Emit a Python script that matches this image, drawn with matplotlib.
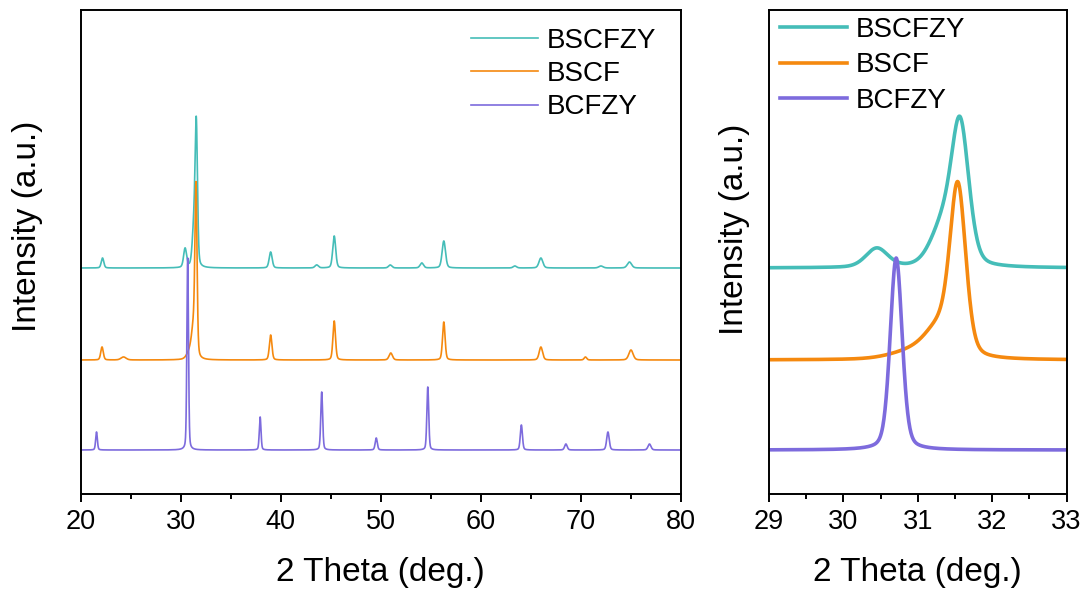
import numpy as np
import matplotlib
matplotlib.use("Agg")
import matplotlib.pyplot as plt
from matplotlib.ticker import MultipleLocator

plt.rcParams["font.family"] = ["Liberation Sans", "DejaVu Sans"]

# Sample names (legend order)
samples = ["BSCFZY", "BSCF", "BCFZY"]

# Reflections per sample: 2-theta position (deg), intensity (a.u.), FWHM (deg)
bscfzy_pos = [22.2, 30.45, 31.33, 31.57, 39.0, 43.6, 45.35, 50.95, 54.1, 56.3, 63.4, 66.0, 72.0, 74.85]
bscfzy_int = [10, 19, 38, 138, 16, 3, 32, 3, 5, 27, 2, 10, 2, 6]
bscfzy_fwhm = [0.3, 0.35, 0.38, 0.28, 0.35, 0.4, 0.35, 0.4, 0.4, 0.4, 0.4, 0.45, 0.5, 0.5]

bscf_pos = [22.15, 24.3, 30.95, 31.3, 31.54, 39.0, 45.35, 51.0, 56.3, 66.0, 70.45, 75.0]
bscf_int = [13, 3, 8, 28, 164, 25, 39, 7, 38, 13, 3, 10]
bscf_fwhm = [0.3, 0.6, 0.7, 0.45, 0.25, 0.3, 0.3, 0.4, 0.3, 0.4, 0.3, 0.5]

bcfzy_pos = [21.6, 30.71, 37.95, 44.1, 49.55, 54.7, 64.05, 68.5, 72.7, 76.85]
bcfzy_int = [18, 192, 33, 58, 12, 63, 25, 6, 18, 6]
bcfzy_fwhm = [0.2, 0.19, 0.2, 0.22, 0.25, 0.22, 0.25, 0.3, 0.3, 0.35]

# Vertical stacking offsets of the patterns
offsets = {"BSCFZY": 226, "BSCF": 134, "BCFZY": 44}
colors = {"BSCFZY": "#45BDB8", "BSCF": "#F5890F", "BCFZY": "#7D6BDD"}

ETA = 0.3  # Lorentzian fraction of the pseudo-Voigt profile


def pattern(x, pos, inten, fwhm):
    y = np.zeros_like(x)
    for p, a, f in zip(pos, inten, fwhm):
        d = (x - p) / f
        g = np.exp(-4 * np.log(2) * d ** 2)
        lor = 1.0 / (1.0 + 4 * d ** 2)
        y += a * ((1 - ETA) * g + ETA * lor)
    return y


two_theta = np.arange(20.0, 80.0001, 0.005)
curves = {
    "BSCFZY": pattern(two_theta, bscfzy_pos, bscfzy_int, bscfzy_fwhm),
    "BSCF": pattern(two_theta, bscf_pos, bscf_int, bscf_fwhm),
    "BCFZY": pattern(two_theta, bcfzy_pos, bcfzy_int, bcfzy_fwhm),
}

W, H = 1092, 599
fig = plt.figure(figsize=(W / 100, H / 100), dpi=100)
ax1 = fig.add_axes([80.5 / W, 1 - 494 / H, 600.5 / W, 484 / H])
ax2 = fig.add_axes([769 / W, 1 - 494 / H, 297.5 / W, 484 / H])

draw_order = ["BSCFZY", "BSCF", "BCFZY"]
legend_handles = {}
for ax, lw in ((ax1, 1.2), (ax2, 2.6)):
    handles = {}
    for name in draw_order:
        (ln,) = ax.plot(two_theta, curves[name] + offsets[name], color=colors[name], lw=lw, label=name)
        handles[name] = ln
    legend_handles[ax] = [handles[n] for n in samples]
    ax.set_ylim(0, 484)
    ax.set_yticks([])
    for sp in ax.spines.values():
        sp.set_linewidth(1.4)
    ax.tick_params(axis="x", which="major", direction="out", length=6, width=1.4, labelsize=19.5, pad=5)
    ax.tick_params(axis="x", which="minor", direction="out", length=3.5, width=1.4)
    ax.set_xlabel("2 Theta (deg.)", fontsize=24, labelpad=16)
    ax.set_ylabel("Intensity (a.u.)", fontsize=24)
    ax.yaxis.label.set_verticalalignment("center")

ax1.set_xlim(20, 80)
ax1.xaxis.set_major_locator(MultipleLocator(10))
ax1.xaxis.set_minor_locator(MultipleLocator(5))
ax1.yaxis.set_label_coords((28 - 80.5) / 600.5, (494 - 226) / 484)

ax2.set_xlim(29, 33)
ax2.xaxis.set_major_locator(MultipleLocator(1))
ax2.xaxis.set_minor_locator(MultipleLocator(0.5))
ax2.yaxis.set_label_coords((735 - 769) / 297.5, (494 - 229) / 484)

leg_kw = dict(frameon=False, fontsize=20, borderpad=0, borderaxespad=0,
              handlelength=2.4, handletextpad=0.32, loc="upper left")
ax1.legend(legend_handles[ax1], samples, labelspacing=0.26,
           bbox_to_anchor=((471 - 80.5) / 600.5, (494 - 28) / 484), **leg_kw)
ax2.legend(legend_handles[ax2], samples, labelspacing=0.34,
           bbox_to_anchor=((780 - 769) / 297.5, (494 - 17) / 484), **leg_kw)

fig.savefig("out.png", dpi=100)
